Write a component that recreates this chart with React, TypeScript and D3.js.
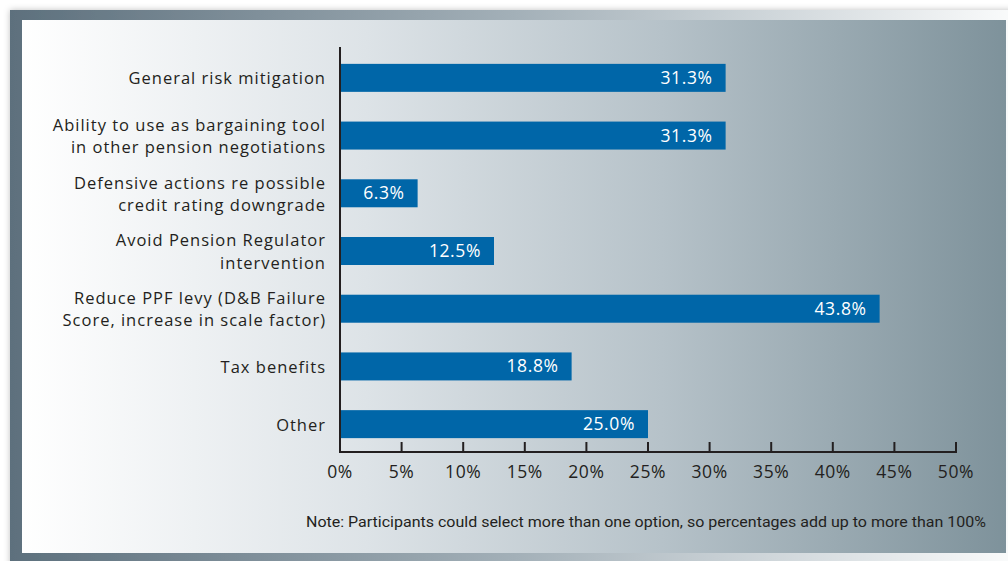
import { useEffect, useRef } from 'react';
import * as d3 from 'd3';

const categories: string[][] = [
  ['General risk mitigation'],
  ['Ability to use as bargaining tool', 'in other pension negotiations'],
  ['Defensive actions re possible', 'credit rating downgrade'],
  ['Avoid Pension Regulator', 'intervention'],
  ['Reduce PPF levy (D&B Failure', 'Score, increase in scale factor)'],
  ['Tax benefits'],
  ['Other'],
];
const values = [31.3, 31.3, 6.3, 12.5, 43.8, 18.8, 25.0];
const ticks = [0, 5, 10, 15, 20, 25, 30, 35, 40, 45, 50];
const note = 'Note: Participants could select more than one option, so percentages add up to more than 100%';

const W = 1008;
const H = 561;
const TEXT = '#231f20';
const BAR = '#0066a8';

export default function App() {
  const svgRef = useRef<SVGSVGElement>(null);

  useEffect(() => {
    if (!svgRef.current) return;
    const svg = d3.select(svgRef.current);
    svg.selectAll('*').remove();
    svg.attr('width', W).attr('height', H);

    const defs = svg.append('defs');
    const inner = defs.append('linearGradient').attr('id', 'innerGrad');
    [
      [0, '#ffffff'],
      [0.35, '#dde3e7'],
      [0.65, '#b6c2c9'],
      [1, '#7e929b'],
    ].forEach(([o, c]) => inner.append('stop').attr('offset', o as number).attr('stop-color', c as string));
    const border = defs.append('linearGradient').attr('id', 'borderGrad');
    [
      [0, '#5d707d'],
      [0.5, '#a3b0b8'],
      [1, '#fbfcfc'],
    ].forEach(([o, c]) => border.append('stop').attr('offset', o as number).attr('stop-color', c as string));
    const shadow = defs.append('filter').attr('id', 'shadow').attr('x', '-5%').attr('y', '-5%').attr('width', '110%').attr('height', '110%');
    shadow.append('feDropShadow').attr('dx', 0).attr('dy', 0).attr('stdDeviation', 3).attr('flood-color', '#000').attr('flood-opacity', 0.25);

    // frame
    svg.append('rect').attr('x', 10).attr('y', 10).attr('width', 1010).attr('height', 560)
      .attr('fill', 'url(#borderGrad)').attr('filter', 'url(#shadow)');
    svg.append('rect').attr('x', 22).attr('y', 20).attr('width', 984).attr('height', 533)
      .attr('fill', 'url(#innerGrad)');

    const x = d3.scaleLinear().domain([0, 50]).range([340, 956]);
    const y = d3.scaleBand<number>()
      .domain(values.map((_, i) => i))
      .range([49, 453])
      .paddingInner(0.515)
      .paddingOuter(0.2575);

    const font = "'Open Sans', 'Noto Sans', sans-serif";
    const fs = 17.5;
    const ls = 0.6;

    // bars
    svg.append('g').selectAll('rect')
      .data(values)
      .join('rect')
      .attr('x', x(0))
      .attr('y', (_, i) => y(i)!)
      .attr('width', (d) => x(d) - x(0))
      .attr('height', y.bandwidth())
      .attr('fill', BAR);

    // value labels
    svg.append('g').selectAll('text')
      .data(values)
      .join('text')
      .attr('x', (d) => x(d) - 13)
      .attr('y', (_, i) => y(i)! + y.bandwidth() / 2 + 6)
      .attr('text-anchor', 'end')
      .attr('fill', '#ffffff')
      .attr('font-family', font)
      .attr('font-size', fs)
      .attr('letter-spacing', ls)
      .text((d) => `${d.toFixed(1)}%`);

    // category labels
    const cat = svg.append('g')
      .attr('font-family', font)
      .attr('font-size', 16.5)
      .attr('letter-spacing', 1.0)
      .attr('fill', TEXT);
    categories.forEach((lines, i) => {
      const cy = y(i)! + y.bandwidth() / 2;
      const t = cat.append('text').attr('text-anchor', 'end');
      lines.forEach((ln, j) => {
        t.append('tspan')
          .attr('x', 326)
          .attr('y', cy + 6.5 + (j - (lines.length - 1) / 2) * 22.5)
          .text(ln);
      });
    });

    // axes
    svg.append('line').attr('x1', 340).attr('x2', 340).attr('y1', 47).attr('y2', 453)
      .attr('stroke', TEXT).attr('stroke-width', 2);
    svg.append('line').attr('x1', 339).attr('x2', 957).attr('y1', 452).attr('y2', 452)
      .attr('stroke', TEXT).attr('stroke-width', 2);
    svg.append('g').selectAll('line')
      .data(ticks.slice(1))
      .join('line')
      .attr('x1', (d) => x(d)).attr('x2', (d) => x(d))
      .attr('y1', 442).attr('y2', 453)
      .attr('stroke', TEXT).attr('stroke-width', 2);
    svg.append('g').selectAll('text')
      .data(ticks)
      .join('text')
      .attr('x', (d) => x(d))
      .attr('y', 478)
      .attr('text-anchor', 'middle')
      .attr('fill', TEXT)
      .attr('font-family', font)
      .attr('font-size', fs)
      .attr('letter-spacing', ls)
      .text((d) => `${d}%`);

    // note
    svg.append('text')
      .attr('x', 986)
      .attr('y', 527)
      .attr('text-anchor', 'end')
      .attr('fill', TEXT)
      .attr('font-family', "'Liberation Sans Narrow', 'Roboto', sans-serif")
      .attr('font-size', 15)
      .attr('textLength', 680)
      .attr('lengthAdjust', 'spacingAndGlyphs')
      .text(note);
  }, []);

  return (
    <svg
      ref={svgRef}
      style={{ position: 'absolute', left: 0, top: 0, display: 'block' }}
      role="img"
      aria-label="Reasons for pension arrangements chart"
    />
  );
}
